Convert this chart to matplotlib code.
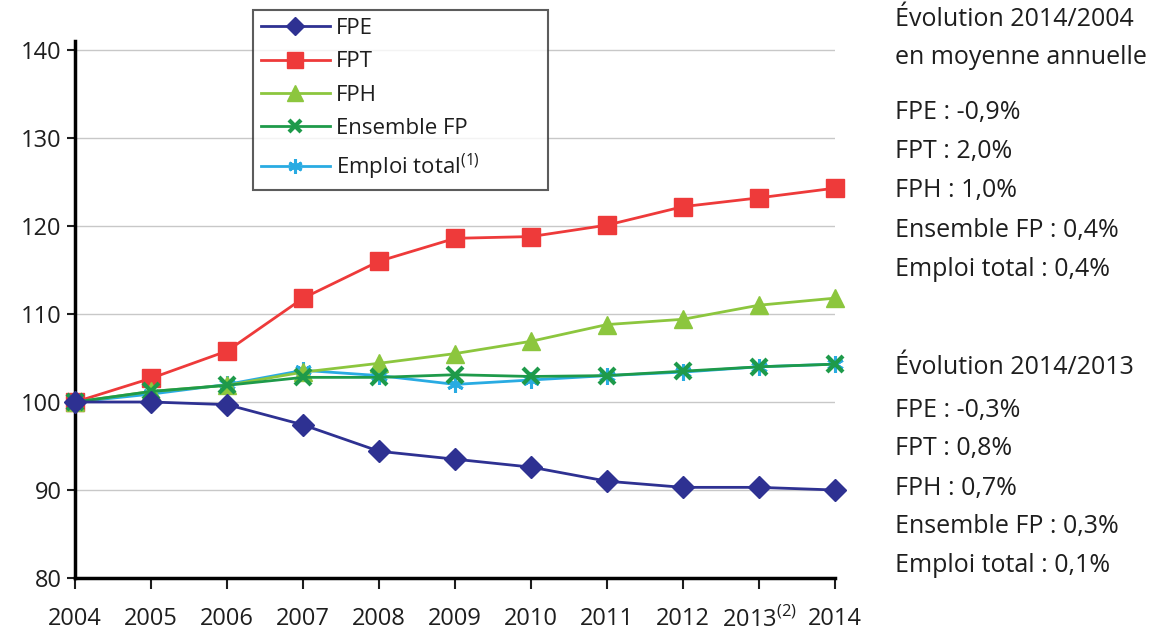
"""Indices d'effectifs de la fonction publique, base 100 en 2004."""
import matplotlib
matplotlib.use("Agg")
import matplotlib.pyplot as plt

plt.rcParams["font.family"] = ["Open Sans", "DejaVu Sans"]
plt.rcParams["mathtext.fontset"] = "custom"
plt.rcParams["mathtext.rm"] = "Open Sans"

years = [2004, 2005, 2006, 2007, 2008, 2009, 2010, 2011, 2012, 2013, 2014]
year_labels = ["2004", "2005", "2006", "2007", "2008", "2009", "2010",
               "2011", "2012", r"2013$^{(2)}$", "2014"]

fpe = [100.0, 100.0, 99.7, 97.4, 94.4, 93.5, 92.6, 91.0, 90.3, 90.3, 90.0]
fpt = [100.0, 102.7, 105.8, 111.8, 116.0, 118.6, 118.8, 120.1, 122.2, 123.2, 124.3]
fph = [100.0, 101.2, 101.9, 103.4, 104.4, 105.5, 106.9, 108.8, 109.4, 111.0, 111.8]
ensemble_fp = [100.0, 101.2, 101.9, 102.8, 102.8, 103.1, 102.9, 103.0, 103.5, 104.0, 104.3]
emploi_total = [100.0, 100.9, 102.0, 103.6, 103.0, 102.0, 102.5, 103.0, 103.4, 104.0, 104.3]

labels_moy = ["FPE", "FPT", "FPH", "Ensemble FP", "Emploi total"]
evol_moy = ["-0,9%", "2,0%", "1,0%", "0,4%", "0,4%"]
evol_an = ["-0,3%", "0,8%", "0,7%", "0,3%", "0,1%"]

TXT = "#1e1e1e"

fig = plt.figure(figsize=(11.58, 6.33), dpi=100)
ax = fig.add_axes([0.065, 0.0869, 0.656, 0.848])

lw = 2.0
ax.plot(years, emploi_total, color="#29abe2", lw=lw, marker=(6, 2, 0), ms=12,
        mew=2.2, label=r"Emploi total$^{(1)}$", zorder=3)
ax.plot(years, ensemble_fp, color="#1e9a4a", lw=lw, marker="x", ms=11,
        mew=3.0, label="Ensemble FP", zorder=5)
ax.plot(years, fph, color="#8cc63e", lw=lw, marker="^", ms=13,
        label="FPH", zorder=4)
ax.plot(years, fpt, color="#ee3a3a", lw=lw, marker="s", ms=13,
        label="FPT", zorder=2)
ax.plot(years, fpe, color="#2e3192", lw=lw, marker="D", ms=11,
        label="FPE", zorder=6)

ax.set_xlim(2004, 2014)
ax.set_ylim(80, 141)
ax.set_yticks([80, 90, 100, 110, 120, 130, 140])
ax.set_xticks(years)
ax.set_xticklabels(year_labels)
ax.grid(axis="y", color="#c8c8c8", lw=1.0)
ax.set_axisbelow(True)
for side in ("top", "right"):
    ax.spines[side].set_visible(False)
for side in ("left", "bottom"):
    ax.spines[side].set_linewidth(2.5)
ax.tick_params(axis="both", labelsize=17, colors=TXT, width=1.5)
ax.tick_params(axis="x", length=8, pad=13)
ax.tick_params(axis="y", length=6, pad=4)
for line in ax.lines:
    line.set_clip_on(False)

handles, labels = ax.get_legend_handles_labels()
order = [4, 3, 2, 1, 0]
leg = ax.legend([handles[i] for i in order], [labels[i] for i in order],
                loc="upper left", mode="expand", borderaxespad=0,
                bbox_to_anchor=(0.234, 0.728, 0.388, 0.33), fontsize=16,
                frameon=True, fancybox=False, edgecolor="#333333",
                handlelength=3.1, borderpad=0.35, labelspacing=0.56,
                handletextpad=0.3, markerscale=0.85)
leg.get_frame().set_linewidth(1.5)
for t in leg.get_texts():
    t.set_color(TXT)

# Panneau de texte à droite
x_txt = 0.773
tkw = dict(fontsize=18, color=TXT, va="center", ha="left")
fig.text(x_txt, 1 - 20 / 633, "Évolution 2014/2004", **tkw)
fig.text(x_txt, 1 - 58 / 633, "en moyenne annuelle", **tkw)
for i, (lab, val) in enumerate(zip(labels_moy, evol_moy)):
    fig.text(x_txt, 1 - (112 + 39.5 * i) / 633, f"{lab} : {val}", **tkw)
fig.text(x_txt, 1 - 368 / 633, "Évolution 2014/2013", **tkw)
for i, (lab, val) in enumerate(zip(labels_moy, evol_an)):
    fig.text(x_txt, 1 - (410 + 39 * i) / 633, f"{lab} : {val}", **tkw)

fig.savefig("out.png", dpi=100)
